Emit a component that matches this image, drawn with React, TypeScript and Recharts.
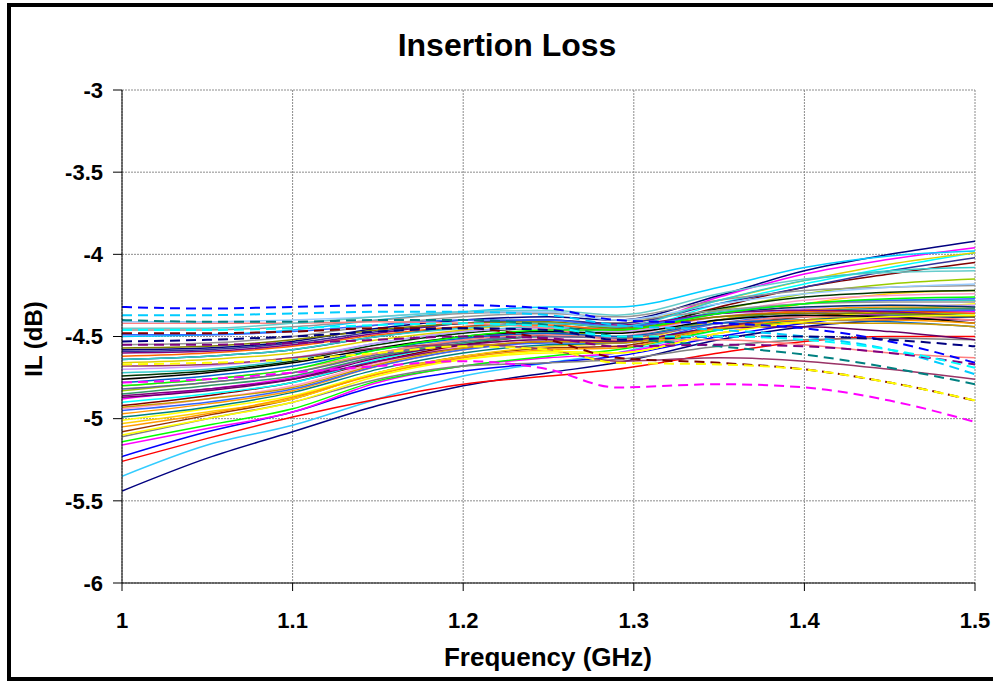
import { LineChart, Line, XAxis, YAxis, CartesianGrid } from "recharts";

// frequency points (GHz) the traces are sampled at
const freqs = [1.0, 1.05, 1.1, 1.15, 1.2, 1.25, 1.29, 1.35, 1.4, 1.45, 1.5];
const xTicks = [1, 1.1, 1.2, 1.3, 1.4, 1.5];
const yTicks = [-6, -5.5, -5, -4.5, -4, -3.5, -3];

// solid traces, IL in dB at each freq
const solidSeries: number[][] = [
  [-5.44, -5.24, -5.08, -4.92, -4.8, -4.72, -4.66, -4.52, -4.44, -4.4, -4.38],
  [-5.35, -5.16, -5.04, -4.88, -4.74, -4.66, -4.6, -4.46, -4.38, -4.34, -4.33],
  [-5.26, -5.12, -4.99, -4.88, -4.79, -4.74, -4.7, -4.6, -4.53, -4.5, -4.5],
  [-5.23, -5.08, -4.96, -4.8, -4.71, -4.66, -4.62, -4.5, -4.42, -4.36, -4.34],
  [-5.16, -5.06, -4.96, -4.78, -4.68, -4.63, -4.6, -4.48, -4.4, -4.36, -4.35],
  [-5.14, -5.04, -4.94, -4.77, -4.68, -4.62, -4.58, -4.46, -4.4, -4.37, -4.36],
  [-5.11, -5.0, -4.9, -4.76, -4.68, -4.66, -4.64, -4.56, -4.52, -4.51, -4.52],
  [-5.08, -4.98, -4.88, -4.72, -4.62, -4.57, -4.56, -4.44, -4.38, -4.35, -4.34],
  [-5.03, -4.96, -4.88, -4.72, -4.62, -4.56, -4.54, -4.4, -4.3, -4.24, -4.22],
  [-5.01, -4.94, -4.86, -4.72, -4.64, -4.6, -4.6, -4.48, -4.4, -4.34, -4.3],
  [-4.99, -4.93, -4.84, -4.7, -4.6, -4.55, -4.54, -4.44, -4.4, -4.38, -4.38],
  [-4.97, -4.91, -4.83, -4.68, -4.58, -4.53, -4.52, -4.4, -4.34, -4.32, -4.33],
  [-4.95, -4.9, -4.82, -4.68, -4.58, -4.54, -4.54, -4.42, -4.36, -4.34, -4.34],
  [-4.94, -4.88, -4.8, -4.66, -4.56, -4.51, -4.5, -4.36, -4.28, -4.25, -4.24],
  [-4.92, -4.86, -4.78, -4.65, -4.55, -4.49, -4.47, -4.32, -4.2, -4.12, -4.05],
  [-4.9, -4.85, -4.78, -4.64, -4.54, -4.48, -4.47, -4.3, -4.18, -4.08, -3.99],
  [-4.88, -4.82, -4.75, -4.62, -4.52, -4.46, -4.45, -4.26, -4.12, -4.03, -3.96],
  [-4.86, -4.82, -4.76, -4.65, -4.57, -4.53, -4.53, -4.44, -4.4, -4.39, -4.4],
  [-4.85, -4.8, -4.74, -4.62, -4.54, -4.5, -4.5, -4.4, -4.35, -4.33, -4.33],
  [-4.83, -4.78, -4.72, -4.6, -4.52, -4.48, -4.48, -4.34, -4.24, -4.18, -4.15],
  [-4.82, -4.78, -4.72, -4.61, -4.53, -4.5, -4.51, -4.42, -4.38, -4.37, -4.38],
  [-4.8, -4.76, -4.7, -4.6, -4.52, -4.49, -4.5, -4.42, -4.38, -4.38, -4.4],
  [-4.76, -4.72, -4.66, -4.57, -4.5, -4.47, -4.48, -4.4, -4.37, -4.38, -4.42],
  [-4.74, -4.71, -4.65, -4.55, -4.48, -4.45, -4.46, -4.33, -4.26, -4.23, -4.22],
  [-4.72, -4.7, -4.64, -4.54, -4.47, -4.44, -4.45, -4.35, -4.3, -4.28, -4.28],
  [-4.7, -4.68, -4.63, -4.54, -4.47, -4.45, -4.47, -4.38, -4.33, -4.31, -4.31],
  [-4.68, -4.67, -4.63, -4.57, -4.55, -4.58, -4.65, -4.63, -4.65, -4.7, -4.76],
  [-4.66, -4.64, -4.6, -4.52, -4.46, -4.42, -4.42, -4.28, -4.16, -4.06, -3.99],
  [-4.64, -4.62, -4.58, -4.5, -4.44, -4.42, -4.44, -4.36, -4.32, -4.31, -4.32],
  [-4.62, -4.6, -4.56, -4.49, -4.44, -4.43, -4.46, -4.38, -4.35, -4.35, -4.36],
  [-4.6, -4.59, -4.55, -4.48, -4.42, -4.4, -4.43, -4.36, -4.34, -4.35, -4.38],
  [-4.59, -4.58, -4.54, -4.47, -4.42, -4.4, -4.42, -4.3, -4.2, -4.1, -4.02],
  [-4.58, -4.57, -4.53, -4.45, -4.4, -4.38, -4.4, -4.25, -4.1, -4.0, -3.92],
  [-4.57, -4.56, -4.52, -4.46, -4.42, -4.41, -4.45, -4.38, -4.36, -4.36, -4.38],
  [-4.55, -4.54, -4.5, -4.43, -4.38, -4.36, -4.38, -4.28, -4.22, -4.2, -4.19],
  [-4.5, -4.49, -4.46, -4.4, -4.35, -4.32, -4.32, -4.2, -4.08, -4.01, -3.98],
  [-4.49, -4.49, -4.47, -4.43, -4.4, -4.4, -4.44, -4.36, -4.3, -4.28, -4.27],
  [-4.46, -4.46, -4.44, -4.4, -4.36, -4.35, -4.4, -4.34, -4.3, -4.29, -4.29],
  [-4.42, -4.42, -4.42, -4.41, -4.42, -4.45, -4.52, -4.52, -4.55, -4.6, -4.63],
  [-4.41, -4.41, -4.4, -4.38, -4.35, -4.35, -4.4, -4.3, -4.24, -4.2, -4.18],
  [-4.45, -4.45, -4.42, -4.38, -4.35, -4.34, -4.37, -4.24, -4.15, -4.11, -4.1],
  [-4.64, -4.62, -4.58, -4.5, -4.45, -4.42, -4.44, -4.28, -4.16, -4.1, -4.08],
  [-4.78, -4.74, -4.68, -4.58, -4.51, -4.48, -4.5, -4.42, -4.4, -4.41, -4.44],
  [-4.87, -4.83, -4.76, -4.63, -4.55, -4.52, -4.53, -4.45, -4.44, -4.47, -4.52],
  [-4.93, -4.88, -4.81, -4.67, -4.57, -4.53, -4.54, -4.45, -4.42, -4.42, -4.44],
  [-5.05, -4.97, -4.87, -4.73, -4.63, -4.58, -4.57, -4.45, -4.4, -4.4, -4.42],
  [-5.1, -5.0, -4.9, -4.74, -4.64, -4.59, -4.6, -4.48, -4.41, -4.38, -4.37],
  [-4.8, -4.76, -4.7, -4.58, -4.5, -4.46, -4.46, -4.36, -4.3, -4.27, -4.26],
];

// dashed traces
const dashedSeries: number[][] = [
  [-4.32, -4.33, -4.32, -4.31, -4.31, -4.33, -4.4, -4.42, -4.45, -4.53, -4.66],
  [-4.37, -4.37, -4.36, -4.35, -4.35, -4.37, -4.43, -4.46, -4.5, -4.58, -4.73],
  [-4.4, -4.41, -4.41, -4.4, -4.4, -4.43, -4.5, -4.56, -4.61, -4.69, -4.79],
  [-4.48, -4.48, -4.47, -4.45, -4.45, -4.52, -4.63, -4.66, -4.7, -4.78, -4.89],
  [-4.53, -4.52, -4.5, -4.47, -4.45, -4.46, -4.52, -4.5, -4.5, -4.52, -4.56],
  [-4.55, -4.55, -4.54, -4.52, -4.5, -4.51, -4.56, -4.55, -4.56, -4.6, -4.67],
  [-4.67, -4.66, -4.64, -4.6, -4.56, -4.58, -4.66, -4.67, -4.7, -4.78, -4.89],
  [-4.78, -4.76, -4.72, -4.68, -4.65, -4.7, -4.81, -4.79, -4.81, -4.89, -5.02],
  [-4.46, -4.46, -4.45, -4.43, -4.42, -4.44, -4.5, -4.5, -4.52, -4.58, -4.69],
];

const solidColors = [
  "#000080", "#33CCFF", "#FF0000", "#0000FF", "#FF00FF", "#00FF00", "#808080", "#993300",
  "#FFCC00", "#FFFF00", "#008080", "#FF9900", "#3366FF", "#FF99CC", "#800000", "#00FFFF",
  "#FF00FF", "#800080", "#339966", "#99CC00", "#666699", "#FF8080", "#000000", "#003300",
  "#33CCCC", "#CC99FF", "#993366", "#E0D000", "#003366", "#FF6600", "#800080", "#333399",
  "#000080", "#808000", "#969696", "#00CCFF", "#3366FF", "#969696", "#FF8080", "#99CCFF",
  "#66CCCC", "#33CCCC", "#0066CC", "#660066", "#CC9900", "#FF9900", "#FFFF00", "#00FF00",
];
const dashedColors = [
  "#0000FF", "#00CCFF", "#008080", "#800000", "#000080", "#800080", "#FFFF00", "#FF00FF", "#00FFFF",
];

const rows = freqs.map((f, i) => {
  const row: Record<string, number> = { f };
  solidSeries.forEach((v, k) => (row[`s${k}`] = v[i]));
  dashedSeries.forEach((v, k) => (row[`d${k}`] = v[i]));
  return row;
});

const font = "'Liberation Sans', Arial, sans-serif";
const tickStyle = { fill: "#000", fontSize: 22, fontWeight: 700, fontFamily: font };

export default function App() {
  return (
    <div
      style={{
        position: "absolute",
        left: 0,
        top: 0,
        width: 993,
        height: 681,
        background: "#fff",
        overflow: "hidden",
        fontFamily: font,
      }}
    >
      <div
        style={{
          position: "absolute",
          left: 7,
          top: 3,
          width: 1000,
          height: 678,
          border: "4px solid #000",
          boxSizing: "border-box",
        }}
      />
      <div style={{ position: "absolute", left: 0, top: 0 }}>
        <LineChart
          width={993}
          height={681}
          data={rows}
          margin={{ top: 90, right: 18, bottom: 38, left: 22 }}
        >
          <CartesianGrid stroke="#8c8c8c" strokeDasharray="2 1" />
          <XAxis
            dataKey="f"
            type="number"
            domain={[1, 1.5]}
            ticks={xTicks}
            height={60}
            tickSize={8}
            tickMargin={21}
            stroke="#000"
            tick={tickStyle}
            tickFormatter={(v) => String(v)}
            allowDataOverflow
          />
          <YAxis
            type="number"
            domain={[-6, -3]}
            ticks={yTicks}
            width={100}
            tickSize={9}
            tickMargin={10}
            stroke="#000"
            tick={tickStyle}
            allowDataOverflow
          />
          {solidSeries.map((_, k) => (
            <Line
              key={`s${k}`}
              dataKey={`s${k}`}
              type="monotone"
              stroke={solidColors[k % solidColors.length]}
              strokeWidth={1.5}
              dot={false}
              isAnimationActive={false}
            />
          ))}
          {dashedSeries.map((_, k) => (
            <Line
              key={`d${k}`}
              dataKey={`d${k}`}
              type="monotone"
              stroke={dashedColors[k]}
              strokeWidth={2}
              strokeDasharray="10 6"
              dot={false}
              isAnimationActive={false}
            />
          ))}
        </LineChart>
      </div>
      <svg
        width={993}
        height={681}
        style={{ position: "absolute", left: 0, top: 0, pointerEvents: "none" }}
      >
        <text x={507} y={56} textAnchor="middle" fontSize={32} fontWeight={700} fontFamily={font}>
          Insertion Loss
        </text>
        <text x={548} y={666} textAnchor="middle" fontSize={26} fontWeight={700} fontFamily={font}>
          Frequency (GHz)
        </text>
        <text
          transform="translate(42 339) rotate(-90)"
          textAnchor="middle"
          fontSize={24}
          fontWeight={700}
          fontFamily={font}
        >
          IL (dB)
        </text>
      </svg>
    </div>
  );
}
